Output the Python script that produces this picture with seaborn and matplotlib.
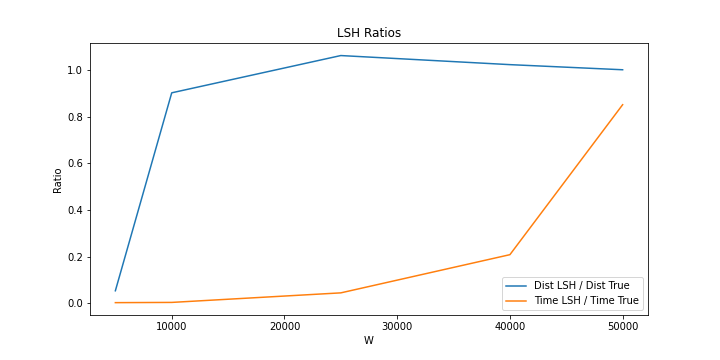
import matplotlib
matplotlib.use('Agg')
import matplotlib.pyplot as plt
import pandas as pd
import seaborn as sns

# W values and the two ratio series
w_values = [5000, 10000, 25000, 40000, 50000]
dist_ratio = [0.053, 0.903, 1.063, 1.024, 1.002]
time_ratio = [0.002, 0.003, 0.044, 0.208, 0.852]

df = pd.DataFrame({'W': w_values, 'Dist LSH / Dist True': dist_ratio,
                   'Time LSH / Time True': time_ratio})

fig, ax = plt.subplots(figsize=(10, 5), dpi=72)
fig.subplots_adjust(left=0.125, right=0.9, top=0.88, bottom=0.125)
sns.lineplot(x='W', y='Dist LSH / Dist True', data=df, ax=ax, label='Dist LSH / Dist True', color='#1f77b4')
sns.lineplot(x='W', y='Time LSH / Time True', data=df, ax=ax, label='Time LSH / Time True', color='#ff7f0e')
ax.set_title('LSH Ratios')
ax.set_xlabel('W')
ax.set_ylabel('Ratio')
ax.legend(loc='lower right')
fig.savefig('out.png', dpi=72)
